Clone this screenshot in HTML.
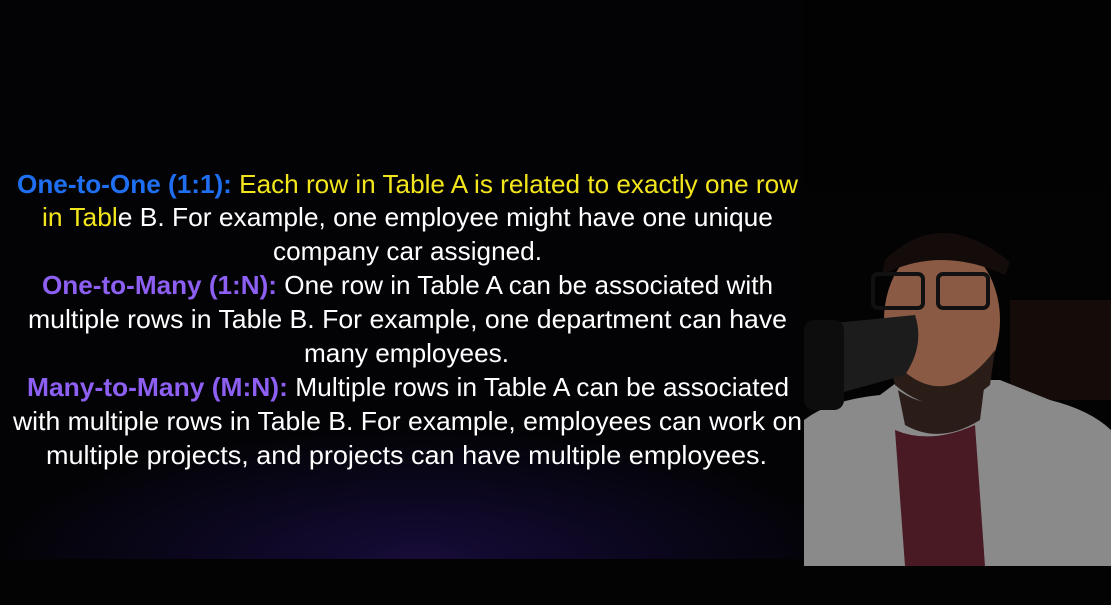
<!DOCTYPE html>
<html><head><meta charset="utf-8"><style>
html,body{margin:0;padding:0;background:#020203;}
#stage{position:relative;width:1111px;height:605px;overflow:hidden;background:#020203;}
#slide{position:absolute;left:0;top:0;width:804px;height:559px;background:radial-gradient(ellipse 420px 130px at 420px 559px,#170c38 0%,#0c0720 50%,#030306 100%);}
#bottom{position:absolute;left:0;top:559px;width:1111px;height:46px;background:#030304;}
svg{position:absolute;left:0;top:0;}
text{font-family:"Liberation Sans",sans-serif;font-size:26px;}
</style></head><body>
<div id="stage">
<div id="slide"></div>
<div id="bottom"></div>
<svg width="1111" height="605">
<g><text x="17" y="193" textLength="781" lengthAdjust="spacingAndGlyphs"><tspan fill="#1f6ff2" font-weight="bold">One-to-One (1:1):</tspan><tspan fill="#f3e51c"> Each row in Table A is related to exactly one row</tspan></text></g>
<text x="42" y="226" textLength="731" lengthAdjust="spacingAndGlyphs"><tspan fill="#f3e51c">in Tabl</tspan><tspan fill="#fff">e B. For example, one employee might have one unique</tspan></text>
<text x="273" y="260" textLength="269" lengthAdjust="spacingAndGlyphs" fill="#fff">company car assigned.</text>
<text x="42" y="294" textLength="731" lengthAdjust="spacingAndGlyphs"><tspan fill="#8d5ff2" font-weight="bold">One-to-Many (1:N):</tspan><tspan fill="#fff"> One row in Table A can be associated with</tspan></text>
<text x="28" y="328" textLength="759" lengthAdjust="spacingAndGlyphs" fill="#fff">multiple rows in Table B. For example, one department can have</text>
<text x="304" y="362" textLength="205" lengthAdjust="spacingAndGlyphs" fill="#fff">many employees.</text>
<text x="27" y="396" textLength="762" lengthAdjust="spacingAndGlyphs"><tspan fill="#8d5ff2" font-weight="bold">Many-to-Many (M:N):</tspan><tspan fill="#fff"> Multiple rows in Table A can be associated</tspan></text>
<text x="13" y="430" textLength="789" lengthAdjust="spacingAndGlyphs" fill="#fff">with multiple rows in Table B. For example, employees can work on</text>
<text x="46" y="464" textLength="721" lengthAdjust="spacingAndGlyphs" fill="#fff">multiple projects, and projects can have multiple employees.</text>
</svg>
<svg width="1111" height="605">
<defs><clipPath id="cam"><rect x="804" y="190" width="307" height="376"/></clipPath></defs>
<g clip-path="url(#cam)">
<rect x="804" y="190" width="307" height="376" fill="#030303"/>
<rect x="1010" y="300" width="101" height="100" fill="#150b09"/>
<path d="M804 420 Q830 400 880 395 L900 380 L1000 380 L1050 400 Q1090 410 1111 430 L1111 566 L804 566 Z" fill="#8a8a8a"/>
<path d="M895 430 Q930 445 975 425 L985 566 L905 566 Z" fill="#4a1a24"/>
<path d="M898 390 Q940 420 985 380 L980 420 Q940 445 905 425 Z" fill="#2a1c18"/>
<ellipse cx="942" cy="320" rx="58" ry="78" fill="#8a5a45"/>
<path d="M885 260 Q940 205 1010 262 L1005 275 Q940 245 882 275 Z" fill="#140c0b"/>
<path d="M888 355 Q942 420 995 350 L990 385 Q942 425 895 385 Z" fill="#2a1d18"/>
<rect x="873" y="274" width="50" height="34" rx="5" fill="none" stroke="#111" stroke-width="4"/>
<rect x="938" y="274" width="50" height="34" rx="5" fill="none" stroke="#111" stroke-width="4"/>
<path d="M815 325 L915 315 Q925 345 905 375 L815 400 Z" fill="#1c1c1c"/>
<rect x="804" y="320" width="40" height="90" rx="10" fill="#0d0d0d"/>
</g>
</svg>
</div>
</body></html>
